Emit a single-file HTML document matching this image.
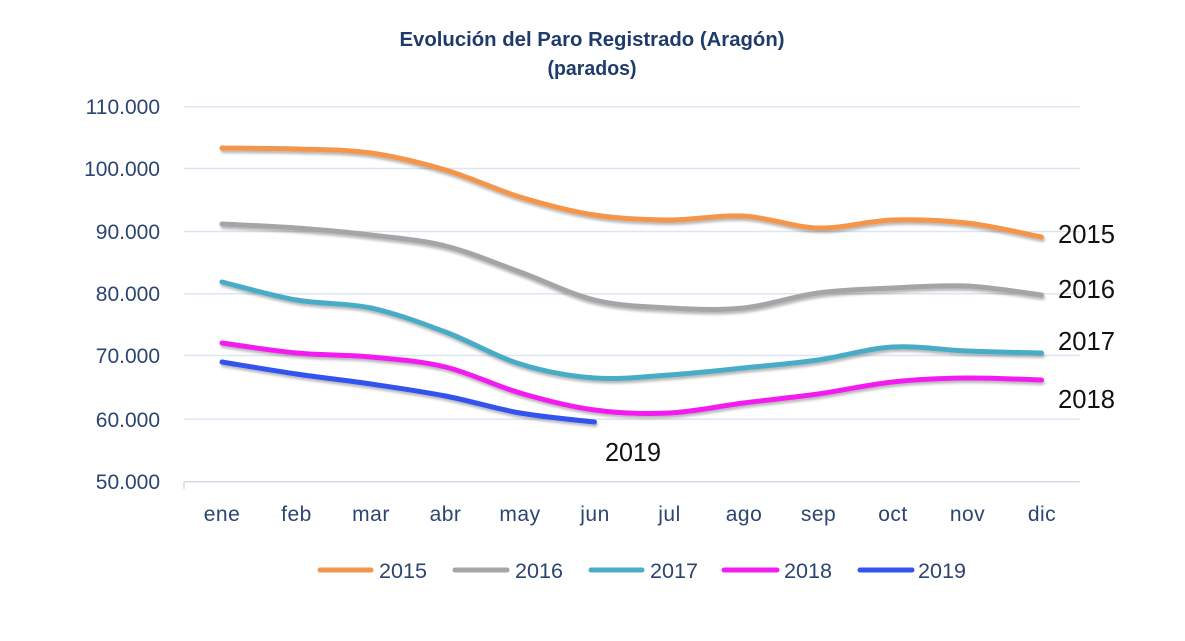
<!DOCTYPE html>
<html>
<head>
<meta charset="utf-8">
<style>
  html,body{margin:0;padding:0;background:#fff;}
  svg{display:block;}
  .ax{font-family:"Liberation Sans",sans-serif;fill:#2C4570;}
</style>
</head>
<body>
<svg id="chart" width="1185" height="641" viewBox="0 0 1185 641" xmlns="http://www.w3.org/2000/svg">
  <defs>
    <filter id="sh" x="-5%" y="-30%" width="110%" height="160%">
      <feDropShadow dx="1" dy="2.5" stdDeviation="1.3" flood-color="#000" flood-opacity="0.28"/>
    </filter>
  </defs>
  <rect width="1185" height="641" fill="#fff"/>

  <!-- Title -->
  <text x="592" y="46" text-anchor="middle" font-family="Liberation Sans, sans-serif" font-weight="bold" font-size="20" fill="#1F3B6B" textLength="385" lengthAdjust="spacingAndGlyphs">Evolución del Paro Registrado (Aragón)</text>
  <text x="592" y="75" text-anchor="middle" font-family="Liberation Sans, sans-serif" font-weight="bold" font-size="20" fill="#1F3B6B" textLength="89" lengthAdjust="spacingAndGlyphs">(parados)</text>

  <!-- Gridlines -->
  <g stroke="#DCE6F2" stroke-width="1.5">
    <line x1="184" y1="106.7" x2="1080" y2="106.7"/>
    <line x1="184" y1="168.5" x2="1080" y2="168.5"/>
    <line x1="184" y1="231.5" x2="1080" y2="231.5"/>
    <line x1="184" y1="293.7" x2="1080" y2="293.7"/>
    <line x1="184" y1="355.5" x2="1080" y2="355.5"/>
    <line x1="184" y1="419.3" x2="1080" y2="419.3"/>
  </g>
  <line x1="184" y1="481.7" x2="1080" y2="481.7" stroke="#D3DDE9" stroke-width="1.5"/>
  <line x1="184" y1="481.7" x2="184" y2="489" stroke="#D3DDE9" stroke-width="1.5"/>

  <!-- Y labels -->
  <g class="ax" font-size="21" text-anchor="end">
    <text x="160" y="114">110.000</text>
    <text x="160" y="176">100.000</text>
    <text x="160" y="239">90.000</text>
    <text x="160" y="301">80.000</text>
    <text x="160" y="363">70.000</text>
    <text x="160" y="427">60.000</text>
    <text x="160" y="489">50.000</text>
  </g>

  <!-- X labels -->
  <g class="ax" font-size="21" text-anchor="middle" letter-spacing="0.5">
    <text x="222" y="521">ene</text>
    <text x="296.5" y="521">feb</text>
    <text x="371" y="521">mar</text>
    <text x="445.5" y="521">abr</text>
    <text x="520" y="521">may</text>
    <text x="595" y="521">jun</text>
    <text x="669.5" y="521">jul</text>
    <text x="744" y="521">ago</text>
    <text x="818.5" y="521">sep</text>
    <text x="893" y="521">oct</text>
    <text x="967.5" y="521">nov</text>
    <text x="1042" y="521">dic</text>
  </g>

  <!-- Series -->
  <g fill="none" stroke-width="5" stroke-linecap="round" stroke-linejoin="round" filter="url(#sh)">
    <path id="s2015" stroke="#F4954A" d=""/>
    <path id="s2016" stroke="#A5A5A5" d=""/>
    <path id="s2017" stroke="#4AACC6" d=""/>
    <path id="s2018" stroke="#F21EF0" d=""/>
    <path id="s2019" stroke="#3352EE" d=""/>
  </g>

  <!-- Right labels -->
  <g font-family="Liberation Sans, sans-serif" font-size="26" fill="#111">
    <text x="1058" y="243" textLength="57" lengthAdjust="spacingAndGlyphs">2015</text>
    <text x="1058" y="298" textLength="57" lengthAdjust="spacingAndGlyphs">2016</text>
    <text x="1058" y="350" textLength="57" lengthAdjust="spacingAndGlyphs">2017</text>
    <text x="1058" y="408" textLength="57" lengthAdjust="spacingAndGlyphs">2018</text>
    <text x="605" y="461" textLength="56" lengthAdjust="spacingAndGlyphs">2019</text>
  </g>

  <!-- Legend -->
  <g stroke-width="5" stroke-linecap="round">
    <line x1="320" y1="570" x2="371" y2="570" stroke="#F4954A"/>
    <line x1="455" y1="570" x2="507" y2="570" stroke="#A5A5A5"/>
    <line x1="591" y1="570" x2="642" y2="570" stroke="#4AACC6"/>
    <line x1="724" y1="570" x2="777" y2="570" stroke="#F21EF0"/>
    <line x1="860" y1="570" x2="912" y2="570" stroke="#3352EE"/>
  </g>
  <g class="ax" font-size="21">
    <text x="379" y="578" textLength="48" lengthAdjust="spacingAndGlyphs">2015</text>
    <text x="515" y="578" textLength="48" lengthAdjust="spacingAndGlyphs">2016</text>
    <text x="650" y="578" textLength="48" lengthAdjust="spacingAndGlyphs">2017</text>
    <text x="784" y="578" textLength="48" lengthAdjust="spacingAndGlyphs">2018</text>
    <text x="918" y="578" textLength="48" lengthAdjust="spacingAndGlyphs">2019</text>
  </g>
</svg>
<script>
(function(){
  var x0 = 222, dx = 74.5;
  var data = {
    s2015:[148,149,153,170,197,215,220,216,228,220,223,237],
    s2016:[224,228,235,246,272,300,308,308,293,288,286,295],
    s2017:[282,300,308,332,364,378,375,368,360,347,351,353],
    s2018:[343,353,357,367,393,410,413,403,394,382,378,380],
    s2019:[362,374,384,396,413,422]
  };
  function f(n){return Math.round(n*10)/10;}
  for (var k in data){
    var ys = data[k], pts = [];
    for (var i=0;i<ys.length;i++) pts.push([x0+dx*i, ys[i]]);
    var d = "M"+f(pts[0][0])+","+f(pts[0][1]);
    for (var j=0;j<pts.length-1;j++){
      var p0 = pts[j-1]||pts[j], p1 = pts[j], p2 = pts[j+1], p3 = pts[j+2]||pts[j+1];
      var c1x = p1[0]+(p2[0]-p0[0])/6, c1y = p1[1]+(p2[1]-p0[1])/6;
      var c2x = p2[0]-(p3[0]-p1[0])/6, c2y = p2[1]-(p3[1]-p1[1])/6;
      d += " C"+f(c1x)+","+f(c1y)+" "+f(c2x)+","+f(c2y)+" "+f(p2[0])+","+f(p2[1]);
    }
    document.getElementById(k).setAttribute("d", d);
  }
})();
</script>
</body>
</html>
